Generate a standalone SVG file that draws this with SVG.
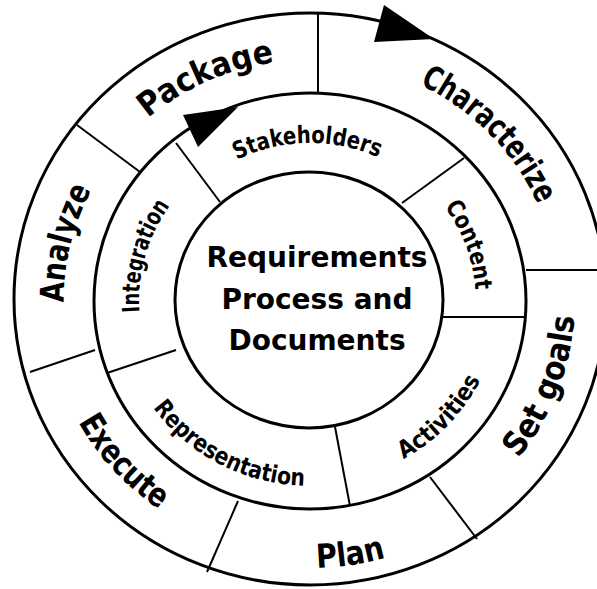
<svg xmlns="http://www.w3.org/2000/svg" xmlns:xlink="http://www.w3.org/1999/xlink" width="597" height="589" viewBox="0 0 597 589">
  <style>
    .ring { fill: none; stroke: #000; stroke-width: 3; }
    .div { stroke: #000; stroke-width: 2; }
    .head { fill: #000; }
    .lbl { font-family: "DejaVu Sans", sans-serif; font-weight: bold; fill: #000; }
    .outer { font-size: 33px; }
    .mid { font-size: 24px; }
    .core { font-family: "DejaVu Sans", sans-serif; font-weight: bold; font-size: 28px; fill: #000; text-anchor: middle; }
  </style>
  <defs>
    <!-- baselines for the curved labels -->
    <path id="p-package" d="M 62.5 279.1 A 248.4 240 0 0 1 452.5 103.4"/>
    <path id="p-characterize" d="M 252 66.6 A 248.4 240 0 0 1 548.2 368.2"/>
    <path id="p-analyze" d="M 138.9 471.2 A 246.3 238 0 0 1 242.1 71.2"/>
    <path id="p-setgoals" d="M 353.7 552.5 A 265 256 0 0 0 514.5 137.2"/>
    <path id="p-plan" d="M 92.9 466.8 A 277.4 268 0 0 0 568.1 398.2"/>
    <path id="p-execute" d="M 60.2 217.8 A 263.9 255 0 0 0 361.2 550.2"/>
    <path id="p-stakeholders" d="M 167.9 223.9 A 162.5 157 0 0 1 449.3 219.1"/>
    <path id="p-content" d="M 335.9 142 A 165.6 160 0 0 1 438.7 400.7"/>
    <path id="p-integration" d="M 189.2 416.7 A 170.8 165 0 0 1 265.8 140.6"/>
    <path id="p-activities" d="M 269 478.7 A 189.4 183 0 0 0 490.6 245"/>
    <path id="p-representation" d="M 117.8 309.7 A 192.5 186 0 0 0 414.8 456"/>
  </defs>

  <rect width="597" height="589" fill="#fff"/>

  <!-- rings and segment dividers -->
  <g id="connectors">
    <ellipse class="ring" cx="310" cy="299" rx="296" ry="286"/>
    <ellipse class="ring" cx="310" cy="301" rx="216" ry="208"/>
    <ellipse class="ring" cx="309" cy="300" rx="134" ry="128"/>

    <line class="div" x1="318" y1="13" x2="318" y2="93"/>
    <line class="div" x1="77" y1="125" x2="140" y2="172"/>
    <line class="div" x1="30" y1="372" x2="95" y2="350"/>
    <line class="div" x1="238" y1="501" x2="207" y2="572"/>
    <line class="div" x1="430" y1="477" x2="477" y2="539"/>
    <line class="div" x1="526" y1="270" x2="597" y2="270"/>

    <line class="div" x1="176" y1="143" x2="220" y2="202"/>
    <line class="div" x1="464" y1="158" x2="402" y2="203"/>
    <line class="div" x1="443" y1="317" x2="526" y2="317"/>
    <line class="div" x1="335" y1="427" x2="350" y2="506"/>
    <line class="div" x1="176" y1="350" x2="107" y2="373"/>

    <polygon class="head" points="384,5 374,42 434,39"/>
    <polygon class="head" points="183,115 198,147 238,107"/>
  </g>

  <g id="core-node">
    <text class="core" x="317" y="267">Requirements</text>
    <text class="core" x="317" y="309">Process and</text>
    <text class="core" x="317" y="350">Documents</text>
  </g>

  <g id="package"><text class="lbl outer"><textPath xlink:href="#p-package" startOffset="50%" text-anchor="middle" textLength="140" lengthAdjust="spacingAndGlyphs">Package</textPath></text></g>
  <g id="characterize"><text class="lbl outer"><textPath xlink:href="#p-characterize" startOffset="50.4%" text-anchor="middle" textLength="172" lengthAdjust="spacingAndGlyphs">Characterize</textPath></text></g>
  <g id="set-goals"><text class="lbl outer"><textPath xlink:href="#p-setgoals" startOffset="50%" text-anchor="middle" textLength="155" lengthAdjust="spacingAndGlyphs">Set goals</textPath></text></g>
  <g id="plan"><text class="lbl outer"><textPath xlink:href="#p-plan" startOffset="50.3%" text-anchor="middle" textLength="70" lengthAdjust="spacingAndGlyphs">Plan</textPath></text></g>
  <g id="execute"><text class="lbl outer"><textPath xlink:href="#p-execute" startOffset="50%" text-anchor="middle" textLength="120" lengthAdjust="spacingAndGlyphs">Execute</textPath></text></g>
  <g id="analyze"><text class="lbl outer"><textPath xlink:href="#p-analyze" startOffset="49.3%" text-anchor="middle" textLength="117" lengthAdjust="spacingAndGlyphs">Analyze</textPath></text></g>

  <g id="stakeholders"><text class="lbl mid"><textPath xlink:href="#p-stakeholders" startOffset="50%" text-anchor="middle" textLength="146" lengthAdjust="spacingAndGlyphs">Stakeholders</textPath></text></g>
  <g id="content"><text class="lbl mid"><textPath xlink:href="#p-content" startOffset="51.5%" text-anchor="middle" textLength="90" lengthAdjust="spacingAndGlyphs">Content</textPath></text></g>
  <g id="activities"><text class="lbl mid"><textPath xlink:href="#p-activities" startOffset="50%" text-anchor="middle" textLength="112" lengthAdjust="spacingAndGlyphs">Activities</textPath></text></g>
  <g id="representation"><text class="lbl mid"><textPath xlink:href="#p-representation" startOffset="48.7%" text-anchor="middle" textLength="176" lengthAdjust="spacingAndGlyphs">Representation</textPath></text></g>
  <g id="integration"><text class="lbl mid"><textPath xlink:href="#p-integration" startOffset="50%" text-anchor="middle" textLength="113" lengthAdjust="spacingAndGlyphs">Integration</textPath></text></g>
</svg>
